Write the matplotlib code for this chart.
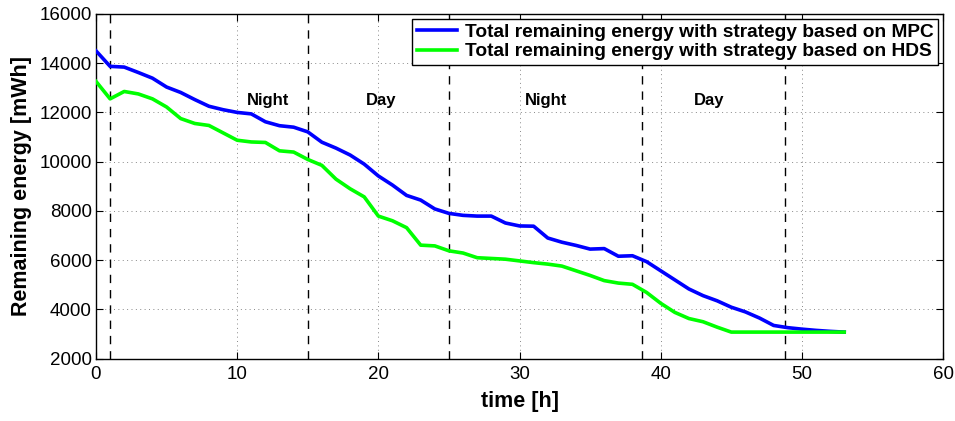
import numpy as np
import matplotlib.pyplot as plt

plt.rcParams['font.family'] = ['Liberation Sans', 'DejaVu Sans']

hours = np.arange(0, 54)

energy_mpc = [14500, 13870, 13840, 13620, 13390, 13030, 12810, 12520, 12250, 12110,
              12000, 11940, 11620, 11460, 11400, 11210, 10790, 10550, 10270, 9900,
              9420, 9050, 8630, 8440, 8080, 7900, 7820, 7790, 7790, 7510,
              7390, 7380, 6900, 6730, 6600, 6450, 6470, 6160, 6180, 5940,
              5570, 5200, 4830, 4560, 4350, 4090, 3900, 3650, 3350, 3260,
              3200, 3150, 3110, 3080]

energy_hds = [13260, 12550, 12850, 12750, 12550, 12220, 11750, 11550, 11470, 11170,
              10870, 10800, 10780, 10440, 10390, 10090, 9850, 9290, 8900, 8570,
              7790, 7600, 7320, 6610, 6580, 6380, 6290, 6100, 6070, 6040,
              5970, 5900, 5840, 5760, 5570, 5380, 5170, 5070, 5020, 4690,
              4250, 3880, 3630, 3500, 3280, 3080, 3080, 3080, 3080, 3080,
              3080, 3080, 3080, 3080]

period_bounds = [1, 15, 25, 38.66, 48.8]
period_labels = ['Night', 'Day', 'Night', 'Day']
label_x = [12.2, 20.2, 31.9, 43.4]
label_y = 12500

fig = plt.figure(figsize=(9.55, 4.21), dpi=100)
ax = fig.add_axes([0.1005, 0.148, 0.887, 0.819])

ax.plot(hours, energy_mpc, color='#0000ff', linewidth=2.6,
        label='Total remaining energy with strategy based on MPC', zorder=3)
ax.plot(hours, energy_hds, color='#00ff00', linewidth=2.6,
        label='Total remaining energy with strategy based on HDS', zorder=3)

for xb in period_bounds:
    ax.axvline(xb, color='black', linewidth=1.0, linestyle=(0, (6, 5)), zorder=2)

for txt, xt in zip(period_labels, label_x):
    ax.text(xt, label_y, txt, ha='center', va='center', fontsize=12, fontweight='bold')

ax.set_xlim(0, 60)
ax.set_ylim(2000, 16000)
ax.set_xticks(range(0, 61, 10))
ax.set_yticks(range(2000, 16001, 2000))
ax.tick_params(direction='in', top=True, right=True, labelsize=13.5, length=5)
ax.tick_params(axis='x', pad=5)
ax.tick_params(axis='y', pad=3)
ax.grid(True, linestyle=(0, (1, 3.5)), color='#888888', linewidth=0.7)
for s in ax.spines.values():
    s.set_linewidth(1.0)

ax.set_xlabel('time [h]', fontsize=15.5, fontweight='bold', labelpad=6)
ax.set_ylabel('Remaining energy [mWh]', fontsize=15.5, fontweight='bold', labelpad=5)

leg = ax.legend(loc='upper right', frameon=True, fancybox=False,
                handlelength=2.1, borderaxespad=0.25, borderpad=0.25,
                labelspacing=0.1, handletextpad=0.4,
                prop={'weight': 'bold', 'size': 13.8})
leg.get_frame().set_edgecolor('black')
leg.get_frame().set_linewidth(1.0)
leg.get_frame().set_alpha(1)

fig.savefig('out.png', dpi=100)
